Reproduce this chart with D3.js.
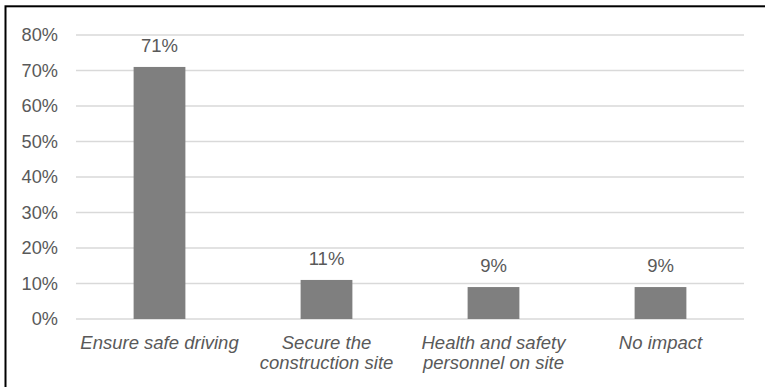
<!DOCTYPE html>
<html>
<head>
<meta charset="utf-8">
<script src="https://cdn.jsdelivr.net/npm/d3@7"></script>
<style>
  html, body { margin: 0; padding: 0; background: #fff; }
  svg { display: block; }
</style>
</head>
<body>
<svg id="chart" width="765" height="387"></svg>
<script>
// Share of responses per measure
const categories = [
  ["Ensure safe driving"],
  ["Secure the", "construction site"],
  ["Health and safety", "personnel on site"],
  ["No impact"]
];
const values = [71, 11, 9, 9];
const yTicks = [0, 10, 20, 30, 40, 50, 60, 70, 80];

const W = 765, H = 387;
const margin = { left: 76, right: 21, top: 35, bottom: 68 };
const font = "'Liberation Sans', Arial, sans-serif";
const textColor = "#595959";

const svg = d3.select("#chart");

// Outer frame
svg.append("rect")
  .attr("x", 5.5).attr("y", 6.3)
  .attr("width", W + 10).attr("height", H + 10)
  .attr("fill", "#fff")
  .attr("stroke", "#000")
  .attr("stroke-width", 2);

const x = d3.scaleBand()
  .domain(d3.range(values.length))
  .range([margin.left, W - margin.right])
  .paddingInner(0.69)
  .paddingOuter(0.345);

const y = d3.scaleLinear()
  .domain([0, 80])
  .range([H - margin.bottom, margin.top]);

// Gridlines
svg.append("g")
  .selectAll("line")
  .data(yTicks)
  .join("line")
  .attr("x1", margin.left)
  .attr("x2", W - margin.right)
  .attr("y1", d => y(d))
  .attr("y2", d => y(d))
  .attr("stroke", "#d9d9d9")
  .attr("stroke-width", 1.5);

// Y axis labels
const yAxis = d3.axisLeft(y)
  .tickValues(yTicks)
  .tickFormat(d => d + "%")
  .tickSize(0)
  .tickPadding(18);
const gy = svg.append("g")
  .attr("transform", `translate(${margin.left},0)`)
  .call(yAxis);
gy.select(".domain").remove();
gy.selectAll("text")
  .attr("font-family", font)
  .attr("font-size", 18.2)
  .attr("fill", textColor);

// Bars
svg.append("g")
  .selectAll("rect")
  .data(values)
  .join("rect")
  .attr("x", (d, i) => x(i))
  .attr("y", d => y(d))
  .attr("width", x.bandwidth())
  .attr("height", d => y(0) - y(d))
  .attr("fill", "#7f7f7f");

// Value labels
svg.append("g")
  .selectAll("text")
  .data(values)
  .join("text")
  .attr("x", (d, i) => x(i) + x.bandwidth() / 2)
  .attr("y", d => y(d) - 15)
  .attr("text-anchor", "middle")
  .attr("font-family", font)
  .attr("font-size", 18.5)
  .attr("fill", textColor)
  .text(d => d + "%");

// Category labels
const cat = svg.append("g")
  .selectAll("text")
  .data(categories)
  .join("text")
  .attr("x", (d, i) => x(i) + x.bandwidth() / 2)
  .attr("y", 348.5)
  .attr("text-anchor", "middle")
  .attr("font-family", font)
  .attr("font-size", 18.5)
  .attr("font-style", "italic")
  .attr("fill", textColor);
cat.each(function(lines, i) {
  d3.select(this).selectAll("tspan")
    .data(lines)
    .join("tspan")
    .attr("x", x(i) + x.bandwidth() / 2)
    .attr("dy", (d, j) => j === 0 ? 0 : 20.5)
    .text(d => d);
});
</script>
</body>
</html>
